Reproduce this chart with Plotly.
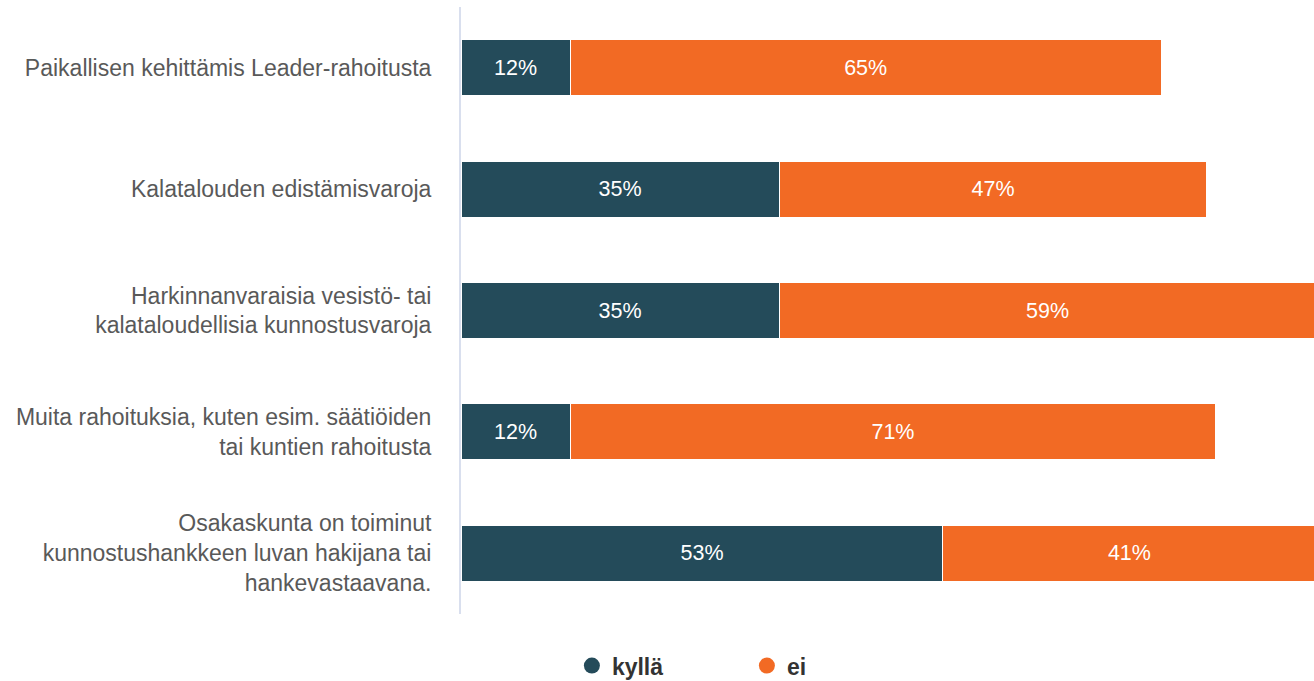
import plotly.graph_objects as go

categories = [
    "Paikallisen kehittämis Leader-rahoitusta",
    "Kalatalouden edistämisvaroja",
    "Harkinnanvaraisia vesistö- tai<br>kalataloudellisia kunnostusvaroja",
    "Muita rahoituksia, kuten esim. säätiöiden<br>tai kuntien rahoitusta",
    "Osakaskunta on toiminut<br>kunnostushankkeen luvan hakijana tai<br>hankevastaavana.",
]
kylla = [12, 35, 35, 12, 53]
ei = [65, 47, 59, 71, 41]
series_names = ["kyllä", "ei"]
colors = ["#244B5A", "#F26A24"]

fig = go.Figure()
for name, vals, col in zip(series_names, [kylla, ei], colors):
    fig.add_trace(go.Bar(
        y=categories, x=vals, name=name, orientation="h",
        marker=dict(color=col, line=dict(color="white", width=1)),
        texttemplate="%{x}%", textposition="inside", insidetextanchor="middle",
        textfont=dict(color="white", size=21.5, family="Liberation Sans, Arial"),
        showlegend=False, hoverinfo="skip",
    ))
    fig.add_trace(go.Scatter(
        x=[None], y=[None], mode="markers", name="<b>" + name + "</b>",
        marker=dict(color=col, size=22, symbol="circle"),
        showlegend=True, hoverinfo="skip",
    ))

fig.update_layout(
    barmode="stack",
    bargap=0.54,
    width=1314, height=681,
    margin=dict(l=461, r=0, t=7, b=67, autoexpand=False),
    paper_bgcolor="white", plot_bgcolor="white",
    font=dict(family="Liberation Sans, Arial", color="#595959", size=23),
    xaxis=dict(range=[0, 93.8], visible=False, showgrid=False, zeroline=False),
    yaxis=dict(
        autorange="reversed", showgrid=False, zeroline=False,
        showline=True, linecolor="#D9DFEE", linewidth=2,
        ticks="", ticklabelstandoff=23,
        tickfont=dict(size=23, color="#595959"),
    ),
    legend=dict(
        orientation="h", x=0.13, xanchor="left", y=-0.085, yanchor="middle",
        traceorder="normal",
        font=dict(size=23, color="#333333", family="Liberation Sans, Arial"),
        itemsizing="trace", entrywidth=130, entrywidthmode="pixels",
    ),
)

fig.write_html("out.html", config={"displayModeBar": False},
               post_script="document.body.style.margin='0';")
